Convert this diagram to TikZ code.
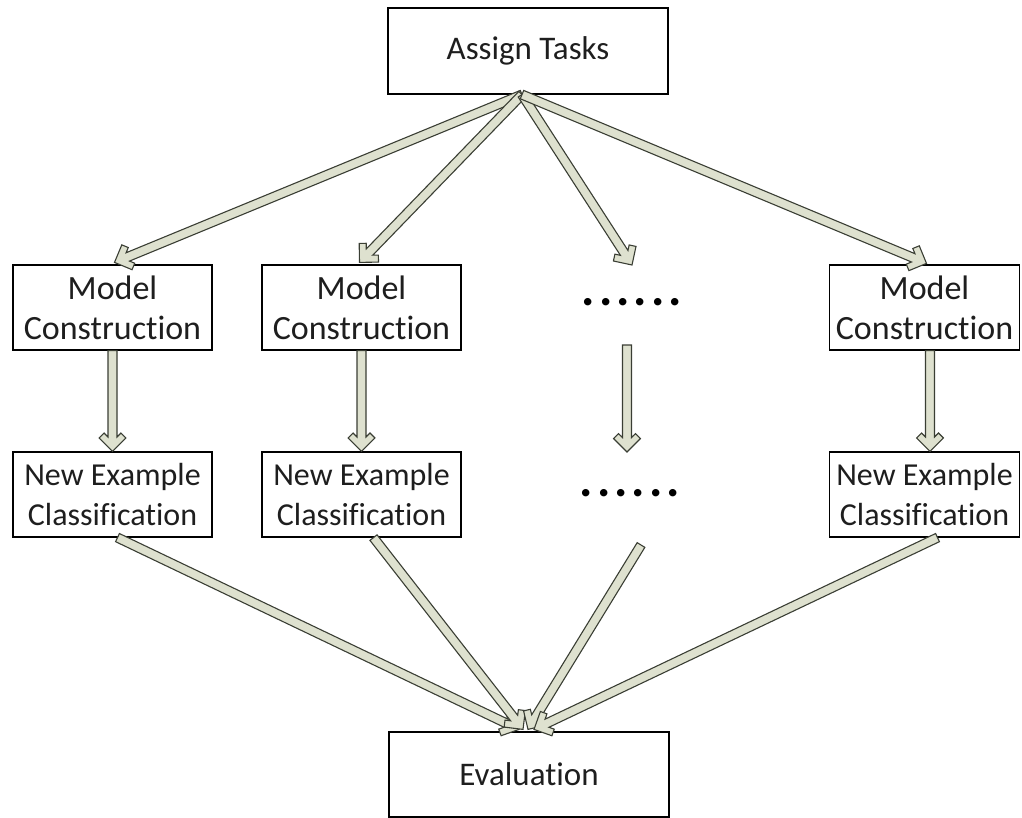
\documentclass[tikz,border=0pt]{standalone}
\usepackage{fontspec}
\setmainfont{Carlito}[Ligatures=NoCommon]
\usetikzlibrary{calc}

\definecolor{arrowfill}{RGB}{222,225,207}
\definecolor{arrowline}{RGB}{58,62,52}
\definecolor{boxtext}{RGB}{30,30,30}

% geometry of the hollow block arrows
\newcommand\shaftw{4.5pt}  % half width of the shaft
\newcommand\arml{19pt}     % length of each barb
\newcommand\armt{7pt}      % thickness of each barb
\newcommand\armd{14.4pt}   % where the barbs meet the shaft (armt*sqrt2 + shaftw)

% \harrow{from}{to}: outlined block arrow with an open chevron head
\newcommand\harrow[2]{%
  \path[hollow] let \p1=(#1), \p2=(#2), \n1={atan2(\y2-\y1,\x2-\x1)} in
    (\p2)
    -- ($(\p2)+(\n1+135:\arml)$)
    -- ($(\p2)+(\n1+135:\arml)+(\n1-135:\armt)$)
    -- ($(\p2)+(\n1+180:\armd)+(\n1+90:\shaftw)$)
    -- ($(\p1)+(\n1+90:\shaftw)$)
    -- ($(\p1)+(\n1-90:\shaftw)$)
    -- ($(\p2)+(\n1+180:\armd)+(\n1-90:\shaftw)$)
    -- ($(\p2)+(\n1-135:\arml)+(\n1+135:\armt)$)
    -- ($(\p2)+(\n1-135:\arml)$)
    -- cycle;
}

\begin{document}
\begin{tikzpicture}[x=1pt,y=-1pt,
  box/.style={draw=black, line width=1.2pt, inner sep=0pt, align=center,
    text=boxtext},
  wide/.style={minimum width=280, font=\fontsize{33}{40}\selectfont},
  model box/.style={minimum height=85, font=\fontsize{34}{40}\selectfont},
  class box/.style={minimum height=85, font=\fontsize{32}{40}\selectfont},
  hollow/.style={draw=arrowline, fill=arrowfill, line width=1.1pt,
    line join=miter},
  ellipsis/.style={inner sep=0pt, text=black,
    font=\fontsize{50}{50}\selectfont\bfseries}]
\useasboundingbox (0,0) rectangle (1022,818);

% boxes
\node[box, wide, minimum height=86] (assign) at (528,51) {Assign Tasks};
\node[box, model box, minimum width=199] (mc1) at (112.5,307.5) {Model\\Construction};
\node[box, model box, minimum width=199] (mc2) at (361.5,307.5) {Model\\Construction};
\node[box, model box, minimum width=190] (mc4) at (924.5,307.5) {Model\\Construction};
\node[box, class box, minimum width=199] (ne1) at (112.5,494.5) {New Example\\Classification};
\node[box, class box, minimum width=199] (ne2) at (361.5,494.5) {New Example\\Classification};
\node[box, class box, minimum width=190] (ne4) at (924.5,494.5) {New Example\\Classification};
\node[box, wide, minimum height=85] (eval) at (529,774.5) {Evaluation};

% the elided middle column
\node[ellipsis] (dots1) at (632,302) {.\kern4pt.\kern4pt.\kern4pt.\kern4pt.\kern4pt.};
\node[ellipsis] (dots2) at (630,493) {.\kern4pt.\kern4pt.\kern4pt.\kern4pt.\kern4pt.};
\coordinate (m1) at (632,265);
\coordinate (m2) at (627,345);
\coordinate (m3) at (627,452);
\coordinate (m4) at (641,545);

% fan-out from the task assignment
\coordinate (fan) at ($(assign.south)+(-6,0)$);
\harrow{fan}{$(mc1.north)+(2,-2)$}
\harrow{fan}{$(mc2.north)+(-2,-2)$}
\harrow{fan}{m1}
\harrow{fan}{$(mc4.north)+(2,-1)$}

% construction -> classification
\harrow{mc1.south}{ne1.north}
\harrow{mc2.south}{ne2.north}
\harrow{m2}{m3}
\harrow{$(mc4.south)+(5.5,0)$}{$(ne4.north)+(5.5,0)$}

% fan-in to the evaluation
\harrow{$(ne1.south)+(5,0)$}{$(eval.north)+(-10,-2)$}
\harrow{$(ne2.south)+(12,0)$}{$(eval.north)+(-6,-2)$}
\harrow{m4}{$(eval.north)+(-1,-2)$}
\harrow{$(ne4.south)+(13,0)$}{$(eval.north)+(5,-2)$}
\end{tikzpicture}
\end{document}
